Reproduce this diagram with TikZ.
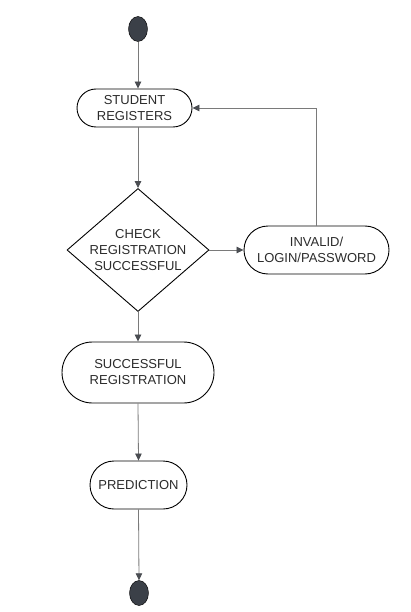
\documentclass[tikz,border=0pt]{standalone}
\usepackage{fontspec}
\setmainfont{Liberation Sans}
\usetikzlibrary{positioning,arrows.meta,shapes.geometric,shapes.misc}
\definecolor{linegray}{HTML}{7A7A7A}
\definecolor{tipgray}{HTML}{4A4D52}
\definecolor{dotfill}{HTML}{3B4048}
\definecolor{textgray}{HTML}{2B2B2B}
\tikzstyle{arrow} = [linegray,line width=0.8pt,-{Triangle[length=7pt,width=6.5pt,color=tipgray]}]

\begin{document}
\begin{tikzpicture}[x=1pt,y=-1pt,
  dot/.style={draw=black,fill=dotfill,ellipse,minimum width=19pt,minimum height=25pt,inner sep=0pt},
  act/.style={draw=black,line width=0.9pt,rounded rectangle,inner sep=0pt,align=center,font=\fontsize{13}{16}\selectfont,text=textgray},
  decide/.style={draw=black,line width=0.9pt,diamond,inner sep=0pt,minimum width=142pt,minimum height=123pt}]

 \useasboundingbox (0,0) rectangle (411,612);

 \node [dot] (start) at (138,29){};
 \node [act,minimum width=115pt,minimum height=38pt] (student) at (134.5,108){STUDENT\\REGISTERS};
 \node [decide] (check) at (138,250){};
 \node [align=center,font=\fontsize{13}{16}\selectfont,text=textgray] (checktext) at (check){CHECK\\REGISTRATION\\SUCCESSFUL};
 \node [act,minimum width=145pt,minimum height=48pt] (invalid) at (316.5,250){INVALID/\\LOGIN/PASSWORD};
 \node [act,minimum width=152pt,minimum height=61pt] (success) at (138,372.5){SUCCESSFUL\\REGISTRATION};
 \node [act,minimum width=97pt,minimum height=48pt] (predict) at (138.5,485){PREDICTION};
 \node [dot] (finish) at (139,593){};

 \draw [arrow] (start) -- (start |- student.north);
 \draw [arrow] (start |- student.south) -- (check.north);
 \draw [arrow] (check.east) -- (invalid.west);
 \draw [arrow] (invalid.north) |- (student.east);
 \draw [arrow] (check.south) -- (success.north);
 \draw [arrow] (success.south) -- (predict.north);
 \draw [arrow] (predict.south) -- (finish.north);
\end{tikzpicture}
\end{document}
